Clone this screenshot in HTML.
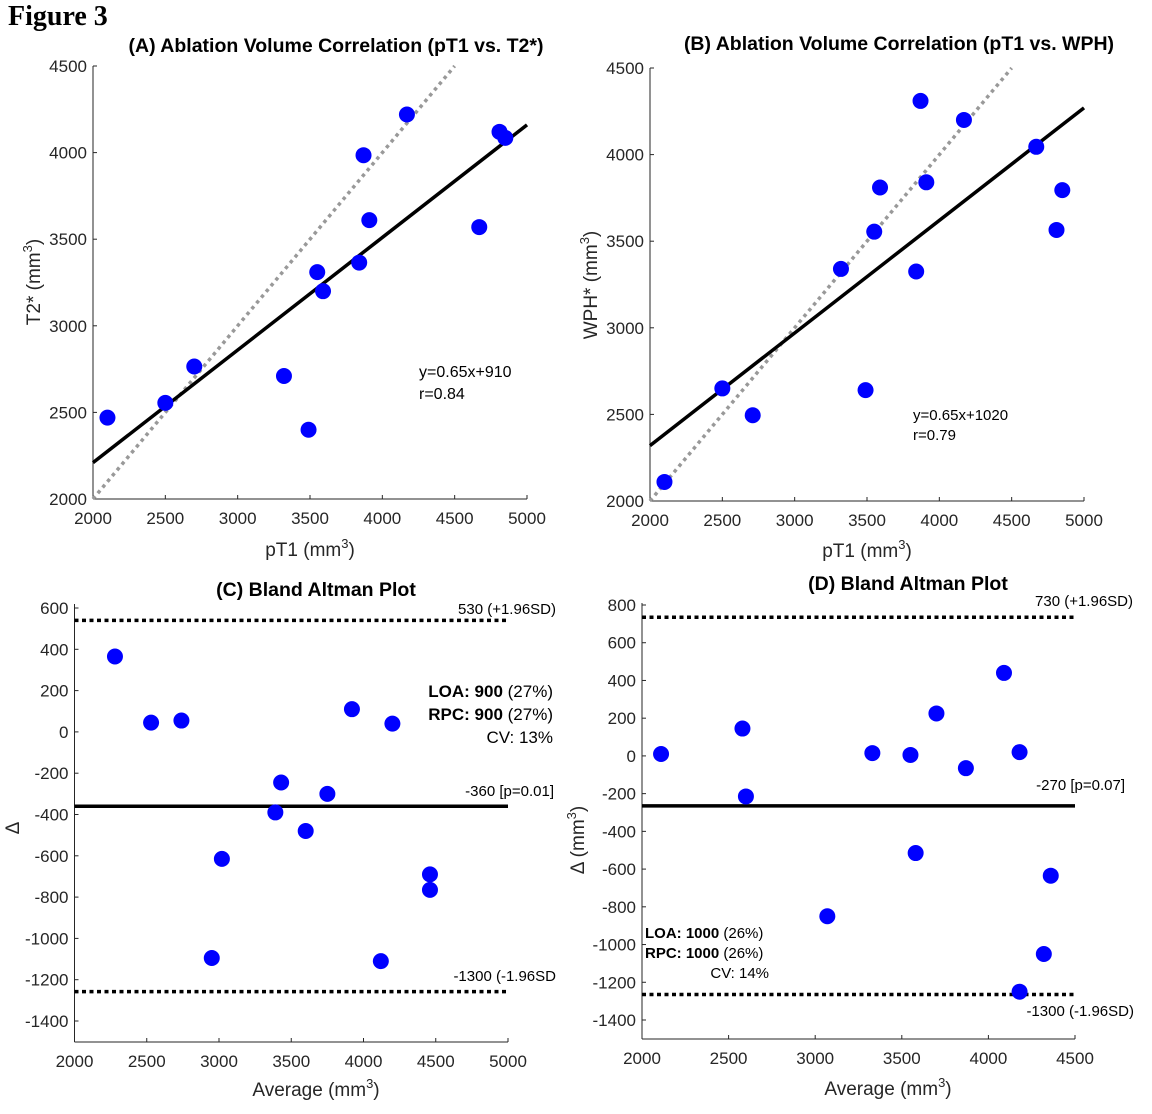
<!DOCTYPE html>
<html><head><meta charset="utf-8">
<style>
body{margin:0;background:#fff;}
svg{display:block;font-family:"Liberation Sans",Arial,sans-serif;}
.tick{font-size:17px;fill:#262626;}
.ttl{font-size:19.5px;font-weight:bold;fill:#000;}
.lab{font-size:19px;fill:#262626;}
.ann{font-size:15px;fill:#000;}
</style></head>
<body>
<svg id="fig" width="1152" height="1114" viewBox="0 0 1152 1114" xmlns="http://www.w3.org/2000/svg">
<text x="8" y="25" font-family="Liberation Serif,serif" font-weight="bold" font-size="28">Figure 3</text>
</svg>
<script>
// Panel A data
const aX = [2100,2500,2700,3320,3490,3550,3590,3840,3870,3910,4170,4670,4810,4850];
const aY = [2470,2555,2765,2710,2400,3310,3200,3365,3985,3610,4220,3570,4120,4085];
// Panel B data
const bX = [2100,2500,2710,3320,3490,3550,3590,3840,3870,3910,4170,4670,4810,4850];
const bY = [2110,2650,2495,3340,2640,3555,3810,3325,4310,3840,4200,4045,3565,3795];
// Panel C data
const cAvg = [2280,2530,2740,2950,3020,3390,3430,3600,3750,3920,4120,4200,4460,4460];
const cDiff = [365,45,55,-1095,-615,-390,-245,-480,-300,110,-1110,40,-690,-765];
const cLines = [540,-360,-1258];
// Panel D data
const dAvg = [2110,2580,2600,3070,3330,3550,3580,3700,3870,4090,4180,4180,4320,4360];
const dDiff = [10,145,-215,-850,15,5,-515,225,-65,440,20,-1250,-1050,-635];
const dLines = [735,-265,-1265];
// fits
const aFit = [0.65,910];
const bFit = [0.65,1020];
// ticks
const corrTicksX = [2000,2500,3000,3500,4000,4500,5000];
const corrTicksY = [2000,2500,3000,3500,4000,4500];
const cTicksX = [2000,2500,3000,3500,4000,4500,5000];
const cTicksY = [600,400,200,0,-200,-400,-600,-800,-1000,-1200,-1400];
const dTicksX = [2000,2500,3000,3500,4000,4500];
const dTicksY = [800,600,400,200,0,-200,-400,-600,-800,-1000,-1200,-1400];

const NS="http://www.w3.org/2000/svg";
const svg=document.getElementById('fig');
function mk(tag,attrs,parent){const e=document.createElementNS(NS,tag);for(const k in attrs)e.setAttribute(k,attrs[k]);(parent||svg).appendChild(e);return e;}
function scale(d0,d1,r0,r1){return v=>r0+(v-d0)/(d1-d0)*(r1-r0);}

function axes(g,sx,sy,L,R,T,B,tx,ty){
  const ax=mk('line',{x1:L,y1:B,x2:R,y2:B,stroke:'#262626','stroke-width':1},g);
  
  
  const ay=mk('line',{x1:L,y1:T,x2:L,y2:B,stroke:'#262626','stroke-width':1},g);
  
  
  tx.forEach(v=>{
    mk('line',{x1:sx(v),y1:B,x2:sx(v),y2:B-4,stroke:'#262626'},g);
    const t=mk('text',{x:sx(v),y:B+25,'text-anchor':'middle',class:'tick'},g);t.textContent=v;
    
    
  });
  ty.forEach(v=>{
    mk('line',{x1:L,y1:sy(v),x2:L+4,y2:sy(v),stroke:'#262626'},g);
    const t=mk('text',{x:L-6,y:sy(v)+6,'text-anchor':'end',class:'tick'},g);t.textContent=v;
    
    
  });
}
function dots(g,xs,ys,sx,sy){
  xs.forEach((x,i)=>{
    const c=mk('circle',{cx:sx(x),cy:sy(ys[i]),r:8,fill:'#0000ff'},g);
    
    
  });
}
function txt(g,x,y,s,cls,anchor,name,extra){
  const t=mk('text',Object.assign({x:x,y:y,class:cls,'text-anchor':anchor||'start'},extra||{}),g);
  t.innerHTML=s;
  
  
  return t;
}

// Panel A
(function(){
  const g=mk('g',{});
  
  
  const L=93,R=527,T=66,B=499;
  const sx=scale(2000,5000,L,R), sy=scale(2000,4500,B,T);
  axes(g,sx,sy,L,R,T,B,corrTicksX,corrTicksY);
  const id=mk('line',{x1:sx(2000),y1:sy(2000),x2:sx(4500),y2:sy(4500),stroke:'#999','stroke-width':3.5,'stroke-dasharray':'3.5 4'},g);
  
  
  const f=mk('line',{x1:sx(2000),y1:sy(aFit[0]*2000+aFit[1]),x2:sx(5000),y2:sy(aFit[0]*5000+aFit[1]),stroke:'#000','stroke-width':3.5},g);
  
  
  dots(g,aX,aY,sx,sy);
  txt(g,336,52,'(A) Ablation Volume Correlation (pT1 vs. T2*)','ttl','middle','chart-title');
  txt(g,310,556,'pT1  (mm<tspan dy="-8" font-size="13">3</tspan><tspan dy="8">)</tspan>','lab','middle','x-axis-title');
  txt(g,40,282,'T2* (mm<tspan dy="-8" font-size="13">3</tspan><tspan dy="8">)</tspan>','lab','middle','y-axis-title',{transform:'rotate(-90 40 282)'});
  txt(g,419,377,'y=0.65x+910','ann','start','fit-equation',{style:'font-size:16px'});
  txt(g,419,399,'r=0.84','ann','start','correlation-value',{style:'font-size:16px'});
})();

// Panel B
(function(){
  const g=mk('g',{});
  
  
  const L=650,R=1084,T=68,B=501;
  const sx=scale(2000,5000,L,R), sy=scale(2000,4500,B,T);
  axes(g,sx,sy,L,R,T,B,corrTicksX,corrTicksY);
  const id=mk('line',{x1:sx(2000),y1:sy(2000),x2:sx(4500),y2:sy(4500),stroke:'#999','stroke-width':3.5,'stroke-dasharray':'3.5 4'},g);
  
  
  const f=mk('line',{x1:sx(2000),y1:sy(bFit[0]*2000+bFit[1]),x2:sx(5000),y2:sy(bFit[0]*5000+bFit[1]),stroke:'#000','stroke-width':3.5},g);
  
  
  dots(g,bX,bY,sx,sy);
  txt(g,899,50,'(B) Ablation Volume Correlation (pT1 vs. WPH)','ttl','middle','chart-title');
  txt(g,867,557,'pT1  (mm<tspan dy="-8" font-size="13">3</tspan><tspan dy="8">)</tspan>','lab','middle','x-axis-title');
  txt(g,597,285,'WPH*  (mm<tspan dy="-8" font-size="13">3</tspan><tspan dy="8">)</tspan>','lab','middle','y-axis-title',{transform:'rotate(-90 597 285)'});
  txt(g,913,420,'y=0.65x+1020','ann','start','fit-equation',{style:'font-size:15px'});
  txt(g,913,440,'r=0.79','ann','start','correlation-value',{style:'font-size:15px'});
})();

// Panel C
(function(){
  const g=mk('g',{});
  
  
  const L=74.5,R=508,T=604,B=1042;
  const sx=scale(2000,5000,L,R), sy=scale(600,-1400,608,1021);
  axes(g,sx,sy,L,R,T,B,cTicksX,cTicksY);
  cLines.forEach((v,i)=>{
    const l=mk('line',{x1:L,y1:sy(v),x2:R,y2:sy(v),stroke:'#000','stroke-width':3.5,'stroke-dasharray':i==1?'none':'4 3.5'},g);
    
    
  });
  dots(g,cAvg,cDiff,sx,sy);
  txt(g,316,596,'(C) Bland Altman Plot','ttl','middle','chart-title');
  txt(g,556,614,'530 (+1.96SD)','ann','end','upper-loa-label',{style:'font-size:15px'});
  txt(g,554,796,'-360 [p=0.01]','ann','end','mean-label',{style:'font-size:15px'});
  txt(g,556,981,'-1300 (-1.96SD','ann','end','lower-loa-label',{style:'font-size:15px'});
  txt(g,553,697,'<tspan font-weight="bold">LOA: 900</tspan> (27%)','ann','end','loa-text',{style:'font-size:17px'});
  txt(g,553,720,'<tspan font-weight="bold">RPC: 900</tspan> (27%)','ann','end','rpc-text',{style:'font-size:17px'});
  txt(g,553,743,'CV: 13%','ann','end','cv-text',{style:'font-size:17px'});
  txt(g,316,1096,'Average (mm<tspan dy="-8" font-size="13">3</tspan><tspan dy="8">)</tspan>','lab','middle','x-axis-title');
  txt(g,19,828,'Δ','lab','middle','y-axis-title',{transform:'rotate(-90 19 828)'});
})();

// Panel D
(function(){
  const g=mk('g',{});
  
  
  const L=642,R=1075,T=603,B=1039;
  const sx=scale(2000,4500,L,R), sy=scale(800,-1400,605,1020);
  axes(g,sx,sy,L,R,T,B,dTicksX,dTicksY);
  dLines.forEach((v,i)=>{
    const l=mk('line',{x1:L,y1:sy(v),x2:R,y2:sy(v),stroke:'#000','stroke-width':3.5,'stroke-dasharray':i==1?'none':'4 3.5'},g);
    
    
  });
  dots(g,dAvg,dDiff,sx,sy);
  txt(g,908,590,'(D) Bland Altman Plot','ttl','middle','chart-title');
  txt(g,1133,606,'730 (+1.96SD)','ann','end','upper-loa-label',{style:'font-size:15px'});
  txt(g,1125,790,'-270 [p=0.07]','ann','end','mean-label',{style:'font-size:15px'});
  txt(g,1134,1016,'-1300 (-1.96SD)','ann','end','lower-loa-label',{style:'font-size:15px'});
  txt(g,645,938,'<tspan font-weight="bold">LOA: 1000</tspan> (26%)','ann','start','loa-text',{style:'font-size:15px'});
  txt(g,645,958,'<tspan font-weight="bold">RPC: 1000</tspan> (26%)','ann','start','rpc-text',{style:'font-size:15px'});
  txt(g,769,978,'CV: 14%','ann','end','cv-text',{style:'font-size:15px'});
  txt(g,888,1095,'Average  (mm<tspan dy="-8" font-size="13">3</tspan><tspan dy="8">)</tspan>','lab','middle','x-axis-title');
  txt(g,584,840,'Δ  (mm<tspan dy="-8" font-size="13">3</tspan><tspan dy="8">)</tspan>','lab','middle','y-axis-title',{transform:'rotate(-90 584 840)'});
})();
</script>
</body></html>
